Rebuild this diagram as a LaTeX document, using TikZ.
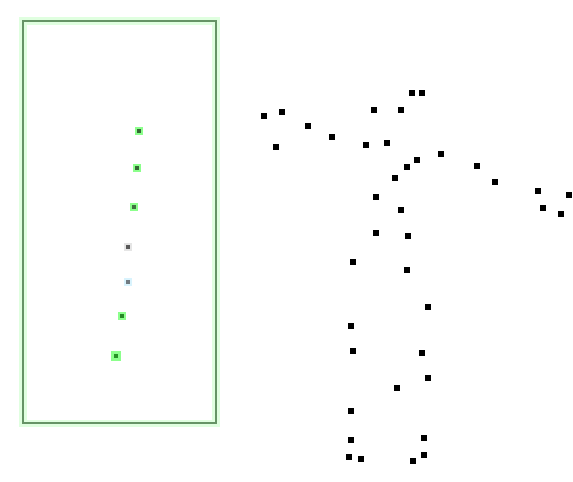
\documentclass[tikz,border=0pt]{standalone}
\usetikzlibrary{positioning}

\begin{document}
\begin{tikzpicture}[
    x=0.02cm,
    y=-0.02cm,
    joint/.style={
        rectangle,
        fill=black,
        inner sep=0pt,
        minimum size=0.12cm
    },
    seqdot/.style={
        rectangle,
        inner sep=0pt,
        minimum size=0.12cm,
        draw=green!45!white,
        line width=1.2pt
    }
]

\useasboundingbox (0,0) rectangle (573,481);

% --------------------------------------------------
% Sequence panel
% --------------------------------------------------

\draw[green!12, line width=4pt] (23,21) rectangle (216,423);
\draw[green!30!black!60, line width=0.7pt] (23,21) rectangle (216,423);

\node[seqdot, fill=green!25!black!80] (s1) at (139,131) {};
\node[seqdot, fill=green!25!black!80] (s2) at (137,168) {};
\node[seqdot, fill=green!25!black!75] (s3) at (134,207) {};
\node[seqdot, fill=black!65, draw=black!10] (s4) at (128,247) {};
\node[seqdot, fill=cyan!20!black!70, draw=cyan!15] (s5) at (128,282) {};
\node[seqdot, fill=green!45!black!85] (s6) at (122,316) {};
\node[seqdot, fill=green!50!black!85, minimum size=0.14cm] (s7) at (116,356) {};

% --------------------------------------------------
% Skeleton joints
% --------------------------------------------------

\foreach \i/\x/\y in {
    1/264/116, 2/282/112, 3/276/147, 4/308/126, 5/332/137,
    6/374/110, 7/401/110, 8/412/93, 9/422/93, 10/366/145,
    11/387/143, 12/441/154, 13/417/160, 14/407/167, 15/395/178,
    16/477/166, 17/495/182, 18/538/191, 19/569/195, 20/543/208,
    21/561/214, 22/376/197, 23/401/210, 24/376/233, 25/408/236,
    26/353/262, 27/407/270, 28/428/307, 29/351/326, 30/353/351,
    31/422/353, 32/428/378, 33/397/388, 34/351/411, 35/351/440,
    36/424/438, 37/349/457, 38/361/459, 39/424/455, 40/413/461}
{
    \node[joint] (j\i) at (\x,\y) {};
}

\end{tikzpicture}
\end{document}
